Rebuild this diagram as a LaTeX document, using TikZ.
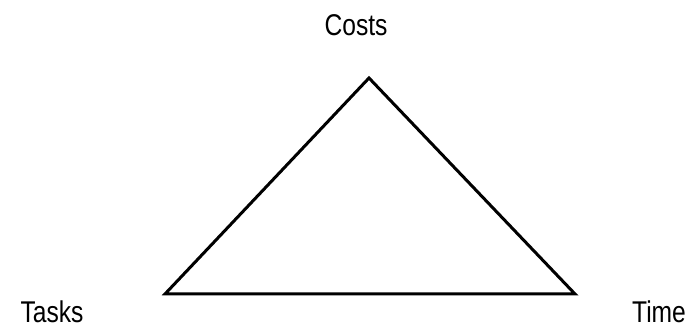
\documentclass[tikz,border=0pt]{standalone}
\usepackage{fontspec}
\setmainfont{Liberation Sans}[FakeStretch=0.82]
\begin{document}
\begin{tikzpicture}[x=1pt,y=1pt,
  lbl/.style={anchor=base,inner sep=0pt,font=\fontsize{30}{36}\selectfont},
  edge/.style={line width=3pt,line join=miter}]
\useasboundingbox (0,0) rectangle (688,328);
\coordinate (top) at (369,250);
\coordinate (left) at (165,34);
\coordinate (right) at (575,34);
\draw[edge] (top) -- (left) -- (right) -- cycle;
\node[lbl] (costs) at (356,292) {Costs};
\node[lbl] (tasks) at (52,5) {Tasks};
\node[lbl] (time) at (659,5) {Time};
\end{tikzpicture}
\end{document}
